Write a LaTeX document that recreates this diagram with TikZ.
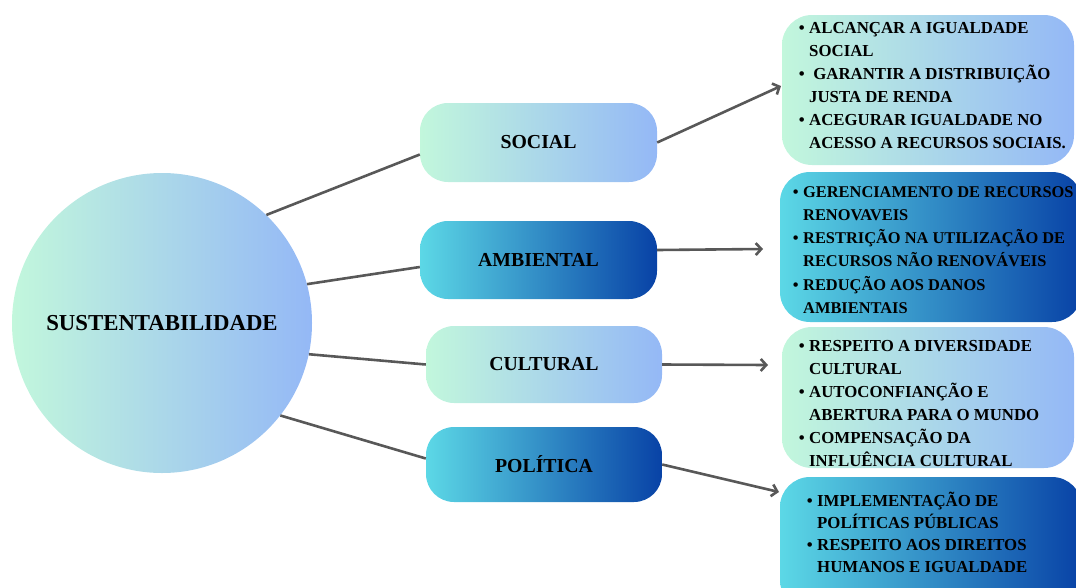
\documentclass[tikz,border=0pt]{standalone}
\usepackage{fontspec}
\setmainfont{Liberation Serif}
\usetikzlibrary{arrows.meta}
\definecolor{lightL}{RGB}{194,247,220}
\definecolor{lightR}{RGB}{148,184,246}
\definecolor{darkL}{RGB}{92,216,230}
\definecolor{darkR}{RGB}{8,66,166}
\definecolor{connc}{RGB}{88,88,88}
\begin{document}
\begin{tikzpicture}[x=1pt,y=-1pt,
  lightfill/.style={left color=lightL, right color=lightR, draw=none},
  darkfill/.style={left color=darkL, right color=darkR, draw=none},
  pill/.style={rectangle, rounded corners=28pt, inner sep=0pt,
    font=\fontsize{19.8}{23}\selectfont\bfseries},
  panel/.style={rectangle, rounded corners=30pt, inner sep=0pt},
  listtext/.style={anchor=north west, align=left, inner sep=0pt,
    font=\fontsize{16.8}{23}\selectfont\bfseries},
  conn/.style={draw=connc, line width=2.6pt},
  arr/.style={conn, -{Straight Barb[length=5.5pt,width=12pt]}}
]
\useasboundingbox (0,0) rectangle (1076,587);
\clip (0,0) rectangle (1076,587);
\newcommand{\bul}{\llap{\textbullet\hspace{4.5pt}}}
% centre
\node[circle, lightfill, minimum size=300pt, inner sep=0pt,
  font=\fontsize{22.8}{27}\selectfont\bfseries] (circ) at (162,323) {SUSTENTABILIDADE};
% pills
\node[pill, lightfill, minimum width=237pt, minimum height=79pt] (soc) at (538.5,142.5) {SOCIAL};
\node[pill, darkfill, minimum width=237pt, minimum height=78pt] (amb) at (538.5,260) {AMBIENTAL};
\node[pill, lightfill, minimum width=236pt, minimum height=77pt] (cult) at (544,364.5) {CULTURAL};
\node[pill, darkfill, minimum width=236pt, minimum height=75pt] (pol) at (544,464.5) {POLÍTICA};
% panels
\node[panel, lightfill, minimum width=292pt, minimum height=150pt] (b1) at (928,90) {};
\node[panel, darkfill, minimum width=302pt, minimum height=150pt] (b2) at (931,247) {};
\node[panel, lightfill, minimum width=292pt, minimum height=141pt] (b3) at (928,397.5) {};
\node[panel, darkfill, minimum width=302pt, minimum height=133pt] (b4) at (931,543.5) {};
% panel texts
\node[listtext] (t1) at (809,17) {\rule{0pt}{16pt}\bul ALCANÇAR A IGUALDADE\\
SOCIAL\\
\bul\ GARANTIR A DISTRIBUIÇÃO\\
JUSTA DE RENDA\\
\bul ACEGURAR IGUALDADE NO\\
ACESSO A RECURSOS SOCIAIS.};
\node[listtext, font=\fontsize{16.4}{23.2}\selectfont\bfseries] (t2) at (803,181) {\rule{0pt}{16pt}\bul GERENCIAMENTO DE RECURSOS\\
RENOVAVEIS\\
\bul RESTRIÇÃO NA UTILIZAÇÃO DE\\
RECURSOS NÃO RENOVÁVEIS\\
\bul REDUÇÃO AOS DANOS\\
AMBIENTAIS};
\node[listtext] (t3) at (809,335) {\rule{0pt}{16pt}\bul RESPEITO A DIVERSIDADE\\
CULTURAL\\
\bul AUTOCONFIANÇÃO E\\
ABERTURA PARA O MUNDO\\
\bul COMPENSAÇÃO DA\\
INFLUÊNCIA CULTURAL};
\node[listtext, font=\fontsize{16.8}{22}\selectfont\bfseries] (t4) at (817,490) {\rule{0pt}{16pt}\bul IMPLEMENTAÇÃO DE\\
POLÍTICAS PÚBLICAS\\
\bul RESPEITO AOS DIREITOS\\
HUMANOS E IGUALDADE};
% connectors from centre
\draw[conn] (circ.46) -- ([yshift=-12pt]soc.west);
\draw[conn] (circ.15) -- ([yshift=-7pt]amb.west);
\draw[conn] (circ.-12) -- (cult.west);
\draw[conn] (circ.-38) -- ([yshift=6pt]pol.west);
% arrows to panels
\coordinate (a1) at (781,86);
\coordinate (a2) at (763,249);
\coordinate (a3) at (768,365);
\coordinate (a4) at (779,492);
\draw[arr] (soc.east) -- (a1);
\draw[arr] ([yshift=10pt]amb.east) -- (a2);
\draw[arr] (cult.east) -- (a3);
\draw[arr] (pol.east) -- (a4);
\end{tikzpicture}
\end{document}
